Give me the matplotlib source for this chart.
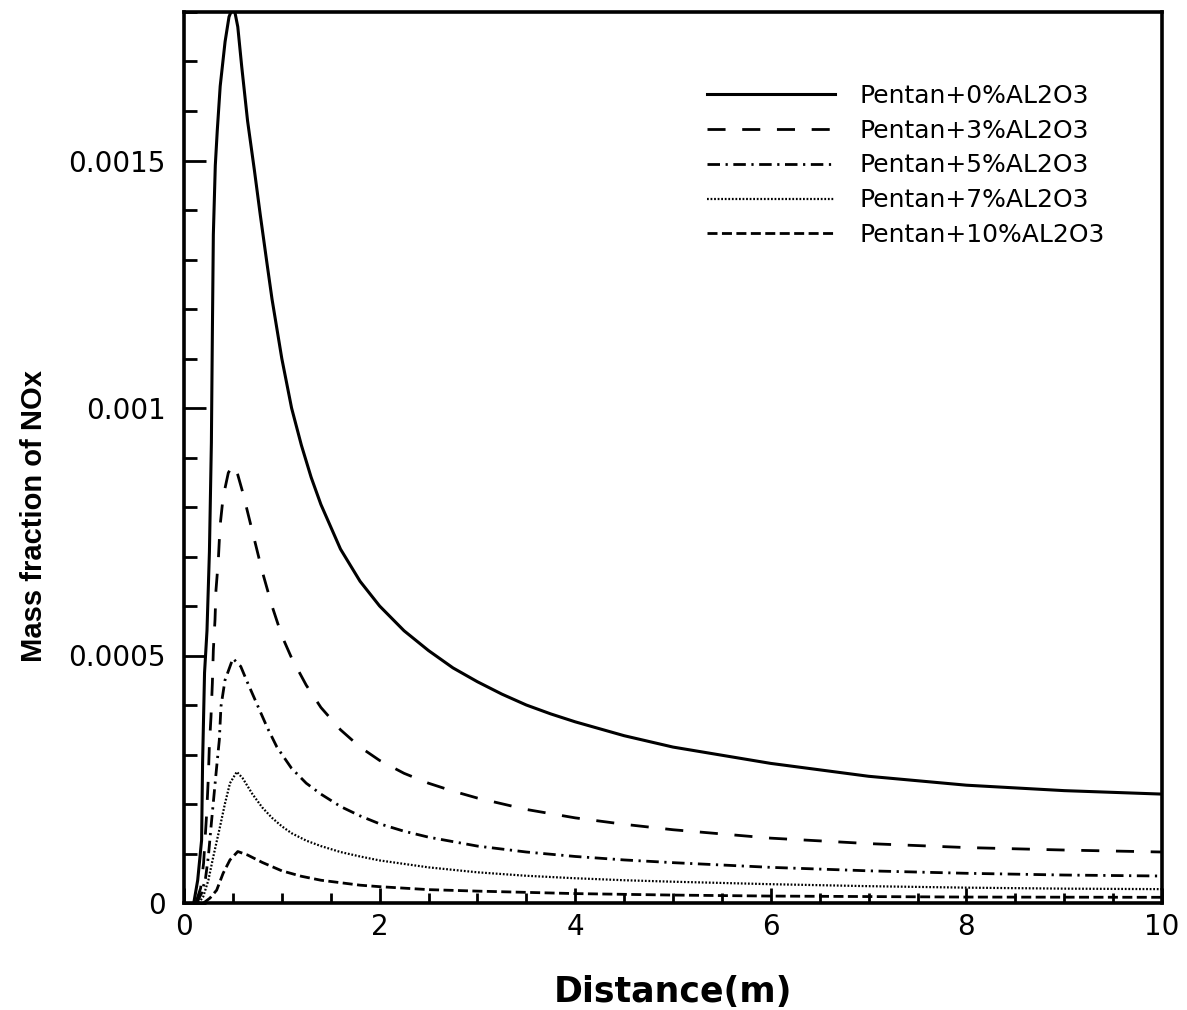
import matplotlib
matplotlib.use('Agg')
import matplotlib.pyplot as plt
from matplotlib.ticker import MultipleLocator

# NOx mass fraction along the distance (in units of 1e-4)
x_0 = [0.10, 0.14, 0.18, 0.19, 0.21, 0.235, 0.26, 0.28, 0.29, 0.30, 0.32, 0.34, 0.37, 0.42, 0.46,
       0.49, 0.52, 0.55, 0.59, 0.65, 0.72, 0.78, 0.85, 0.90, 1.0, 1.1, 1.2, 1.3, 1.4, 1.6, 1.8,
       2.0, 2.25, 2.5, 2.75, 3.0, 3.25, 3.5, 3.75, 4.0, 4.5, 5.0, 6.0, 7.0, 8.0, 9.0, 10.0]
y_0 = [0, 0.46, 1.27, 2.83, 4.65, 5.5, 7.1, 9.3, 11.5, 13.5, 14.9, 15.6, 16.5, 17.4, 17.9,
       18.05, 18.0, 17.7, 16.9, 15.8, 14.8, 13.9, 12.9, 12.2, 11.0, 10.0, 9.25, 8.6, 8.05, 7.15, 6.5,
       6.0, 5.5, 5.1, 4.75, 4.47, 4.22, 4.0, 3.82, 3.66, 3.38, 3.15, 2.82, 2.56, 2.38, 2.27, 2.20]

x_3 = [0.12, 0.17, 0.20, 0.215, 0.232, 0.249, 0.259, 0.276, 0.29, 0.30, 0.317, 0.327, 0.351, 0.368,
       0.40, 0.453, 0.50, 0.55, 0.6, 0.7, 0.8, 0.9, 1.0, 1.1, 1.25, 1.4, 1.6, 1.8, 2.0, 2.25,
       2.5, 2.75, 3.0, 3.5, 4.0, 4.5, 5.0, 6.0, 7.0, 8.0, 9.0, 10.0]
y_3 = [0, 0.3, 0.8, 1.27, 1.82, 2.55, 3.16, 3.76, 4.44, 5.11, 5.72, 6.32, 6.93, 7.6,
       8.2, 8.69, 8.85, 8.65, 8.3, 7.5, 6.7, 6.0, 5.4, 4.95, 4.4, 3.95, 3.5, 3.15, 2.88, 2.62,
       2.42, 2.26, 2.12, 1.89, 1.72, 1.59, 1.48, 1.31, 1.2, 1.12, 1.07, 1.03]

x_5 = [0.13, 0.18, 0.22, 0.249, 0.283, 0.334, 0.361, 0.378, 0.419, 0.50, 0.58, 0.65, 0.75, 0.85,
       0.95, 1.1, 1.25, 1.4, 1.6, 1.8, 2.0, 2.25, 2.5, 3.0, 3.5, 4.0, 4.5, 5.0, 6.0, 7.0, 8.0,
       9.0, 10.0]
y_5 = [0, 0.2, 0.5, 0.94, 1.68, 2.75, 3.29, 3.97, 4.5, 4.94, 4.78, 4.45, 4.0, 3.55,
       3.15, 2.72, 2.42, 2.2, 1.95, 1.76, 1.6, 1.45, 1.33, 1.15, 1.03, 0.94, 0.87, 0.815, 0.72, 0.65, 0.6,
       0.565, 0.545]

x_7 = [0.15, 0.197, 0.249, 0.30, 0.368, 0.419, 0.47, 0.54, 0.6, 0.7, 0.8, 0.9, 1.0, 1.1,
       1.25, 1.4, 1.6, 1.8, 2.0, 2.5, 3.0, 3.5, 4.0, 4.5, 5.0, 6.0, 7.0, 8.0, 9.0, 10.0]
y_7 = [0, 0.13, 0.46, 0.94, 1.54, 2.01, 2.42, 2.65, 2.52, 2.2, 1.93, 1.72, 1.55, 1.41,
       1.26, 1.15, 1.03, 0.94, 0.86, 0.72, 0.62, 0.55, 0.5, 0.46, 0.43, 0.38, 0.34, 0.31, 0.29, 0.28]

x_10 = [0.20, 0.266, 0.334, 0.40, 0.47, 0.55, 0.65, 0.8, 1.0, 1.2, 1.4, 1.6, 1.8, 2.0, 2.5,
        3.0, 4.0, 5.0, 6.0, 7.0, 8.0, 10.0]
y_10 = [0, 0.1, 0.26, 0.6, 0.87, 1.04, 0.97, 0.82, 0.65, 0.54, 0.46, 0.41, 0.36, 0.33, 0.27,
        0.24, 0.19, 0.16, 0.14, 0.13, 0.12, 0.115]

labels = ['Pentan+0%AL2O3', 'Pentan+3%AL2O3', 'Pentan+5%AL2O3',
          'Pentan+7%AL2O3', 'Pentan+10%AL2O3']
x_ticks = [0, 2, 4, 6, 8, 10]
y_ticks = [0, 0.0005, 0.001, 0.0015]
y_tick_labels = ['0', '0.0005', '0.001', '0.0015']

fig = plt.figure(figsize=(11.87, 10.10), dpi=100)
ax = fig.add_axes([184 / 1187, 1 - 903 / 1010, 978 / 1187, 891 / 1010])

series = [(x_0, y_0), (x_3, y_3), (x_5, y_5), (x_7, y_7), (x_10, y_10)]
styles = [
    dict(lw=2.2, ls='-'),
    dict(lw=2.0, ls=(0, (6.5, 6))),
    dict(lw=2.0, ls=(0, (4.5, 2, 0.8, 2))),
    dict(lw=1.6, ls=(0, (0.8, 0.8))),
    dict(lw=2.0, ls=(0, (3.6, 1.6))),
]
for (xs, ys), st, lab in zip(series, styles, labels):
    ax.plot(xs, [v * 1e-4 for v in ys], color='black', label=lab, **st)

ax.set_xlim(0, 10)
ax.set_ylim(0, 0.0018)
ax.set_xticks(x_ticks)
ax.set_yticks(y_ticks)
ax.set_yticklabels(y_tick_labels)
ax.xaxis.set_minor_locator(MultipleLocator(0.5))
ax.yaxis.set_minor_locator(MultipleLocator(0.0001))

for s in ax.spines.values():
    s.set_linewidth(2.6)
ax.tick_params(axis='both', which='both', direction='in', width=2, colors='black')
ax.tick_params(axis='y', which='major', length=16, pad=13, labelsize=20)
ax.tick_params(axis='y', which='minor', length=9.5)
ax.tick_params(axis='x', which='major', length=11, pad=7, labelsize=20)
ax.tick_params(axis='x', which='minor', length=7)

ax.set_xlabel('Distance(m)', fontsize=25, fontweight='bold', labelpad=25)
ax.set_ylabel('Mass fraction of NOx', fontsize=21, fontweight='bold', family='Liberation Sans')
ax.yaxis.set_label_coords(-0.139, 0.434)

leg = ax.legend(loc='upper left', bbox_to_anchor=(707 / 1187, 1 - 84 / 1010),
                bbox_transform=fig.transFigure, frameon=False, fontsize=18,
                handlelength=5.12, handletextpad=1.0, labelspacing=0.43,
                borderpad=0, borderaxespad=0)

fig.savefig('out.png', dpi=100)
